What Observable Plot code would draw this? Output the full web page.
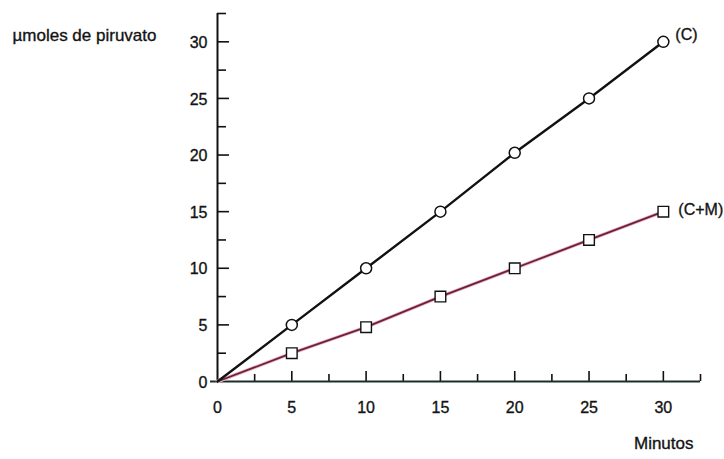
<!DOCTYPE html>
<html><head><meta charset="utf-8">
<script src="https://cdn.jsdelivr.net/npm/d3@7"></script>
<script src="https://cdn.jsdelivr.net/npm/@observablehq/plot@0.6"></script>
<style>
body{margin:0;background:#fff;}
#chart{position:relative;width:724px;height:459px;}
#chart svg text{stroke:#1a1a1a;stroke-width:0.35px;}
</style>
</head><body><div id="chart"></div>
<script>
const minutes = [0, 5, 10, 15, 20, 25, 30];
const piruvatoC = [0, 5, 10, 15, 20.2, 25, 30];
const piruvatoCM = [0, 2.5, 4.8, 7.5, 10, 12.5, 15];
const seriesLabels = ["(C)", "(C+M)"];
const majorTicks = [0, 5, 10, 15, 20, 25, 30];
const minorTicks = [2.5, 7.5, 12.5, 17.5, 22.5, 27.5, 32.5];
const yTitle = "µmoles de piruvato";
const xTitle = "Minutos";

const dataC = minutes.map((m, i) => ({x: m, y: piruvatoC[i]}));
const dataCM = minutes.map((m, i) => ({x: m, y: piruvatoCM[i]}));
const font = "'Liberation Sans', Arial, sans-serif";

const ky = 32.5 / 368; // data units per px (y)
const kx = 32.5 / 483; // data units per px (x)

const plot = Plot.plot({
  width: 724, height: 459,
  marginLeft: 217, marginRight: 24, marginTop: 13, marginBottom: 78,
  x: {domain: [0, 32.5], axis: null},
  y: {domain: [0, 32.5], axis: null},
  style: {fontFamily: font, fontSize: "16px", background: "#fff"},
  marks: [
    Plot.axisX({ticks: majorTicks, tickSize: 0, tickPadding: 20, label: null, fontSize: 16, fill: "#111"}),
    Plot.axisY({ticks: majorTicks, tickSize: 0, tickPadding: 10, label: null, fontSize: 16, fill: "#111", dy: 1}),
    // x ticks (pointing up)
    Plot.ruleX(majorTicks.slice(1), {x: d => d, y1: 0, y2: 10 * ky, stroke: "#111", strokeWidth: 1.6}),
    Plot.ruleX(minorTicks, {x: d => d, y1: 0, y2: 7 * ky, stroke: "#111", strokeWidth: 1.6}),
    // y ticks (pointing right)
    Plot.ruleY(majorTicks.slice(1), {y: d => d, x1: 0, x2: 12 * kx, stroke: "#111", strokeWidth: 1.6}),
    Plot.ruleY(minorTicks, {y: d => d, x1: 0, x2: 9 * kx, stroke: "#111", strokeWidth: 1.6}),
    Plot.ruleY([0], {x1: -7 * kx, x2: 32.5, stroke: "#1b2e2a", strokeWidth: 2}),
    Plot.ruleX([0], {y1: 0, y2: 32.5, stroke: "#111", strokeWidth: 2}),
    Plot.line(dataCM, {x: "x", y: "y", stroke: "#e8b8c4", strokeWidth: 3.5}),
    Plot.line(dataCM, {x: "x", y: "y", stroke: "#6e2038", strokeWidth: 1.8}),
    Plot.line(dataC, {x: "x", y: "y", stroke: "#111", strokeWidth: 2.4}),
    Plot.dot(dataC.slice(1), {x: "x", y: "y", symbol: "circle", r: 5.5, fill: "#fff", stroke: "#111", strokeWidth: 1.5}),
    Plot.dot(dataCM.slice(1), {x: "x", y: "y", symbol: "square", r: 6, fill: "#fff", stroke: "#111", strokeWidth: 1.4}),
    Plot.text([{x: 30, y: 30, t: seriesLabels[0]}], {x: "x", y: "y", text: "t", dx: 12, dy: -7, textAnchor: "start", fontSize: 16, fill: "#111"}),
    Plot.text([{x: 30, y: 15, t: seriesLabels[1]}], {x: "x", y: "y", text: "t", dx: 15, dy: -2, textAnchor: "start", fontSize: 16, fill: "#111"}),
    Plot.text([yTitle], {frameAnchor: "top-left", text: d => d, dx: -205, dy: 15, textAnchor: "start", fontSize: 17, fill: "#111"}),
    Plot.text([xTitle], {frameAnchor: "bottom-right", text: d => d, dx: -7, dy: 67, textAnchor: "end", fontSize: 17, fill: "#111"})
  ]
});
document.getElementById("chart").appendChild(plot);
</script>
</body></html>
